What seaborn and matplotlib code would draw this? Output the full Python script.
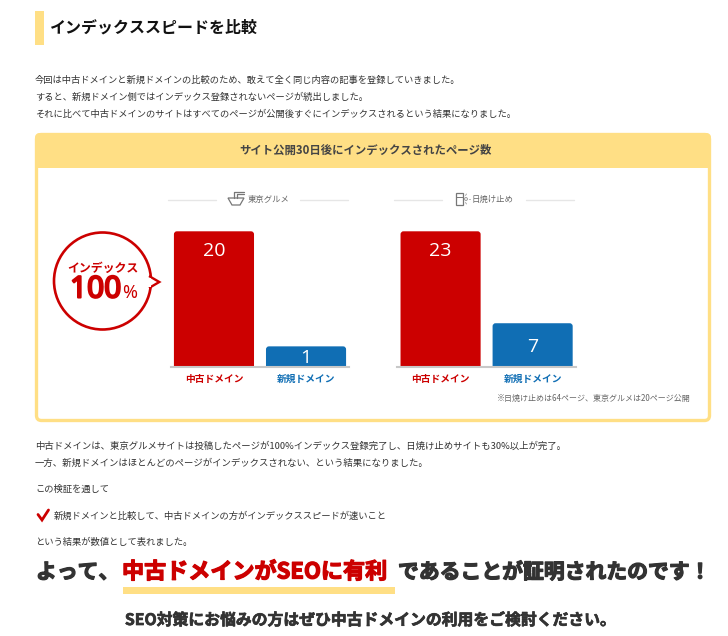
import matplotlib
matplotlib.use("Agg")
import matplotlib.pyplot as plt
import matplotlib.patheffects as pe
from matplotlib.patches import FancyBboxPatch, Circle, Polygon, Rectangle
import pandas as pd
import seaborn as sns

sns.set_theme(style="white")
plt.rcParams['font.family'] = ['Noto Sans CJK JP', 'DejaVu Sans']

# Data
domains = ['中古ドメイン', '新規ドメイン']
gourmet_pages = [20, 1]
sunscreen_pages = [23, 7]
# bars are not to scale in the original, so heights are read off as % of panel
gourmet_heights = [100, 15.4]
sunscreen_heights = [100, 32.4]
panel_titles = ['東京グルメ', '日焼け止め']

heading = 'インデックススピードを比較'
intro_lines = ['今回は中古ドメインと新規ドメインの比較のため、敢えて全く同じ内容の記事を登録していきました。',
               'すると、新規ドメイン側ではインデックス登録されないページが続出しました。',
               'それに比べて中古ドメインのサイトはすべてのページが公開後すぐにインデックスされるという結果になりました。']
card_title = 'サイト公開30日後にインデックスされたページ数'
footnote = '※日焼け止めは64ページ、東京グルメは20ページ公開'
after_lines = ['中古ドメインは、東京グルメサイトは投稿したページが100%インデックス登録完了し、日焼け止めサイトも30%以上が完了。',
               '一方、新規ドメインはほとんどのページがインデックスされない、という結果になりました。']

RED = '#cc0000'
BLUE = '#106eb4'
YELLOW = '#ffdf85'
DARK = '#333333'
GREY = '#777777'
W, H = 728, 636

fig = plt.figure(figsize=(W / 100, H / 100), dpi=100, facecolor='white')

# page layer in pixel coordinates
page = fig.add_axes([0, 0, 1, 1])
page.set_xlim(0, W)
page.set_ylim(H, 0)
page.axis('off')


def txt(x, y, s, size=6.7, color=DARK, weight='normal', ha='left', **kw):
    return page.text(x, y, s, fontsize=size, color=color, fontweight=weight,
                     ha=ha, va='center', **kw)


# heading
page.add_patch(Rectangle((35, 11), 9, 34, color=YELLOW, lw=0))
txt(50, 27.6, heading, size=11.5, color='#111111', weight='bold')

for y, line in zip([80, 96.7, 114], intro_lines):
    txt(35, y, line, size=6.67)

# card
page.add_patch(FancyBboxPatch((36.5, 134.5), 673, 286, boxstyle='round,pad=0,rounding_size=5',
                              fc='white', ec=YELLOW, lw=2.4))
page.add_patch(FancyBboxPatch((35, 133), 676, 35, boxstyle='round,pad=0,rounding_size=5',
                              fc=YELLOW, ec='none'))
page.add_patch(Rectangle((35, 160), 676, 8, color=YELLOW, lw=0))
txt(366, 150, card_title, size=8.2, color='#444444', weight='bold', ha='center')


def draw_panel(left, pages, heights, title, title_x):
    # axes box spans the grey baseline width, top at the tallest bar
    ax = fig.add_axes([left / W, 1 - 367.3 / H, 178.6 / W, 136 / H])
    ax.patch.set_alpha(0)
    df = pd.DataFrame({'domain': domains, 'height': heights})
    sns.barplot(data=df, x='domain', y='height', hue='domain', palette=[RED, BLUE],
                saturation=1, width=0.87, legend=False, ax=ax)
    ax.set_xlim(-0.47, 1.47)
    ax.set_ylim(0, 100)
    ax.set_xlabel('')
    ax.set_ylabel('')
    ax.set_yticks([])
    sns.despine(ax=ax, left=True)
    ax.spines['bottom'].set_color('#c8c8c8')
    ax.spines['bottom'].set_linewidth(1.5)
    ax.tick_params(axis='x', length=0, pad=4.5)
    for tick, c in zip(ax.get_xticklabels(), [RED, BLUE]):
        tick.set_color(c)
        tick.set_fontsize(7)
        tick.set_fontweight('bold')

    # swap the square bars for ones with rounded tops
    x_per_px = 1.94 / 178.6
    y_per_px = 100 / 136
    for bar, value in zip(list(ax.patches), pages):
        bar.set_visible(False)
        rounded = FancyBboxPatch((bar.get_x(), -6), bar.get_width(), bar.get_height() + 6,
                                 boxstyle='round,pad=0,rounding_size=%f' % (3 * x_per_px),
                                 mutation_aspect=y_per_px / x_per_px,
                                 fc=bar.get_facecolor(), ec='none')
        ax.add_patch(rounded)
        h = bar.get_height()
        y = h - 20 * y_per_px if h > 50 else h / 2 - 1.2
        ax.text(bar.get_x() + bar.get_width() / 2, y, str(value), color='white', fontsize=14,
                ha='center', va='center', family='Open Sans')

    # panel title with side rules
    page.plot([left - 3, left + 45], [200, 200], color='#e6e6e6', lw=1)
    page.plot([left + 129, left + 177], [200, 200], color='#e6e6e6', lw=1)
    txt(title_x, 199.5, title, size=6, color='#666666', ha='center')


draw_panel(170.7, gourmet_pages, gourmet_heights, panel_titles[0], 269)
draw_panel(397.3, sunscreen_pages, sunscreen_heights, panel_titles[1], 492.5)

# bowl icon
page.add_patch(Polygon([(228, 198), (244, 198), (240, 205), (232, 205)], closed=True,
                       fc='white', ec=GREY, lw=0.9))
page.plot([234, 234, 244], [198, 192, 192], color=GREY, lw=0.9)
page.plot([237, 237, 244], [198, 194, 194], color=GREY, lw=0.9)
# sunscreen icon
page.add_patch(Rectangle((455.5, 192.5), 7.5, 12, fc='white', ec=GREY, lw=0.9))
page.plot([455.5, 463], [196.5, 196.5], color=GREY, lw=0.7)
page.add_patch(Circle((466, 199), 1.4, fc='white', ec='#888888', lw=0.6))
page.plot([468.5, 470], [199, 199], color='#999999', lw=0.6)
page.plot([465.5, 466.5], [195.5, 194], color='#999999', lw=0.6)
page.plot([465.5, 466.5], [202.5, 204], color='#999999', lw=0.6)

# speech bubble
page.add_patch(Circle((102.5, 281), 48.5, fc='white', ec=RED, lw=1.9))
page.add_patch(Polygon([(149, 276), (159.3, 282), (149, 288)], closed=False, fc='white', ec=RED, lw=1.7))
page.add_patch(Rectangle((145, 277.5), 6, 9, fc='white', ec='none'))
txt(102.5, 268, 'インデックス', size=8.6, color=RED, weight='bold', ha='center')
hundred = txt(70, 290, '100', size=21.5, color=RED, weight='bold', family='Noto Sans')
hundred.set_path_effects([pe.withStroke(linewidth=1.5, foreground=RED)])
txt(122, 293, '%', size=13, color=RED, weight='bold', family='Noto Sans')

txt(691, 398, footnote, size=5.75, color='#666666', ha='right')

# text under the card
for y, line in zip([445.7, 462.7], after_lines):
    txt(35, y, line, size=6.75)
txt(35, 489, 'この検証を通して')
page.plot([38, 42, 48.5], [514.5, 520, 510], color=RED, lw=2, solid_joinstyle='miter')
txt(53.5, 515.7, '新規ドメインと比較して、中古ドメインの方がインデックススピードが速いこと')
txt(35, 542, 'という結果が数値として表れました。')

# big closing lines
thick = [pe.withStroke(linewidth=0.9, foreground=DARK)]
thick_red = [pe.withStroke(linewidth=0.9, foreground=RED)]
page.add_patch(Rectangle((123, 587), 272, 7, color=YELLOW, lw=0))
txt(36, 572, 'よって、', size=15, weight='bold').set_path_effects(thick)
txt(122, 572, '中古ドメインがSEOに有利', size=15.9, color=RED, weight='bold').set_path_effects(thick_red)
txt(398, 572, 'であることが証明されたのです！', size=15, weight='bold').set_path_effects(thick)
txt(371, 620, 'SEO対策にお悩みの方はぜひ中古ドメインの利用をご検討ください。', size=11.4,
    weight='bold', ha='center').set_path_effects([pe.withStroke(linewidth=0.5, foreground=DARK)])

fig.savefig('out.png', dpi=100)
plt.close(fig)
